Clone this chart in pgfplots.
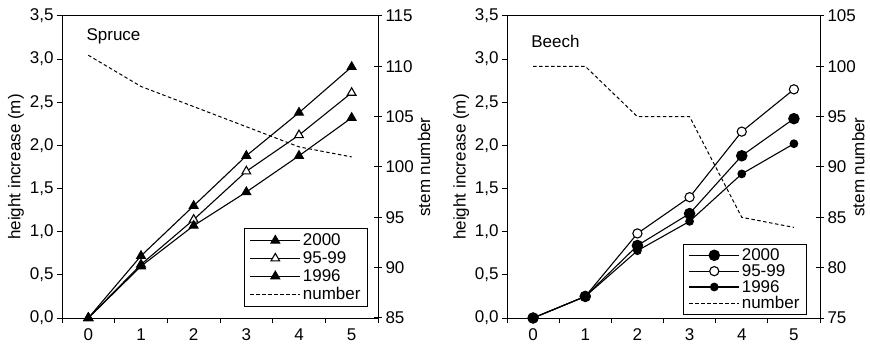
\documentclass[border=0pt]{standalone}
\usepackage{fontspec}
\setmainfont{Liberation Sans}
\usepackage{pgfplots}
\pgfplotsset{compat=1.18}
\tikzset{
  myfont/.style={font=\fontsize{17bp}{19bp}\selectfont},
  numline/.style={black, line width=1bp, dash pattern=on 3.5bp off 2.5bp},
  data/.style={black, line width=1.1bp},
}
\pgfplotsset{
  base/.style={
    scale only axis, width=316bp, height=302bp,
    xmin=-0.5, xmax=5.5,
    /pgf/number format/assume math mode=true,
    tick label style={myfont},
    label style={myfont},
    axis line style={line width=1bp},
    tick style={line width=1bp, black},
  },
  leftax/.style={base,
    ymin=0, ymax=3.5, ytick={0,0.5,...,3.5},
    xtick={0,...,5}, minor xtick={-0.5,0.5,...,5.5},
    major x tick style={draw=none},
    tick pos=left, tick align=outside,
    major tick length=5bp, minor tick length=5bp,
    xticklabel style={yshift=-2bp},
    yticklabel style={/pgf/number format/.cd, fixed, fixed zerofill, precision=1, use comma},
    ylabel={height increase (m)},
    ylabel style={at={(axis description cs:-0.146,0.5)}, anchor=center},
    legend cell align=left,
    legend style={myfont, draw=black, line width=0.8bp, fill=white, inner xsep=4bp, inner ysep=2bp, row sep=-1.5bp},
    legend image code/.code={\draw[mark repeat=2,mark phase=2,##1] plot coordinates {(0bp,0bp)(25bp,0bp)(50bp,0bp)};},
  },
  rightax/.style={base,
    axis x line=none, axis y line*=right,
    ytick pos=right, tick align=center, major tick length=8bp,
    ylabel={stem number},
  },
}

\begin{document}
\begin{tikzpicture}
\useasboundingbox (0,0) rectangle (870bp,345bp);

% ---------------- Spruce ----------------
\begin{axis}[leftax, at={(62bp,27bp)}, anchor=south west,
  legend style={at={(rel axis cs:0.968,0.036)}, anchor=south east, inner xsep=5bp, inner ysep=3.5bp, row sep=0.5bp}]
\addplot[data, mark=triangle*, mark size=5bp, mark options={fill=black, solid}]
  coordinates {(0,0) (1,0.72) (2,1.30) (3,1.88) (4,2.38) (5,2.91)};
\addlegendentry{2000}
\addplot[data, mark=triangle*, mark size=5bp, mark options={fill=white, solid}]
  coordinates {(0,0) (1,0.62) (2,1.14) (3,1.70) (4,2.12) (5,2.61)};
\addlegendentry{95-99}
\addplot[data, mark=triangle*, mark size=5bp, mark options={fill=black, solid}]
  coordinates {(0,0) (1,0.60) (2,1.07) (3,1.46) (4,1.88) (5,2.32)};
\addlegendentry{1996}
\addlegendimage{numline}
\addlegendentry{number}
\node[anchor=west, myfont] at (axis cs:-0.1,3.26) {Spruce};
\end{axis}
\begin{axis}[rightax, at={(62bp,27bp)}, anchor=south west,
  ymin=85, ymax=115, ytick={85,90,...,115},
  ylabel style={at={(axis description cs:1.146,0.5)}, anchor=center}]
\addplot[numline] coordinates {(0,111.1) (1,108.0) (2,106.0) (3,104.0) (4,102.0) (5,101.0)};
\end{axis}

% ---------------- Beech ----------------
\begin{axis}[leftax, width=313bp, at={(507bp,27bp)}, anchor=south west,
  legend style={at={(rel axis cs:0.958,0.012)}, anchor=south east, inner xsep=5bp}]
\addplot[data, mark=*, mark size=5.2bp, mark options={fill=black, solid}]
  coordinates {(0,0) (1,0.25) (2,0.84) (3,1.21) (4,1.88) (5,2.31)};
\addlegendentry{2000}
\addplot[data, mark=*, mark size=4.6bp, mark options={fill=white, solid}]
  coordinates {(0,0) (1,0.25) (2,0.98) (3,1.40) (4,2.16) (5,2.65)};
\addlegendentry{95-99}
\addplot[data, mark=*, mark size=3.8bp, mark options={fill=black, solid}]
  coordinates {(0,0) (1,0.25) (2,0.78) (3,1.12) (4,1.67) (5,2.02)};
\addlegendentry{1996}
\addlegendimage{numline}
\addlegendentry{number}
\node[anchor=west, myfont] at (axis cs:-0.1,3.2) {Beech};
\end{axis}
\begin{axis}[rightax, width=313bp, at={(507bp,27bp)}, anchor=south west,
  ymin=75, ymax=105, ytick={75,80,...,105},
  ylabel style={at={(axis description cs:1.122,0.5)}, anchor=center}]
\addplot[numline] coordinates {(0,100) (1,100) (2,95) (3,95) (4,85) (5,84)};
\end{axis}
\end{tikzpicture}
\end{document}
